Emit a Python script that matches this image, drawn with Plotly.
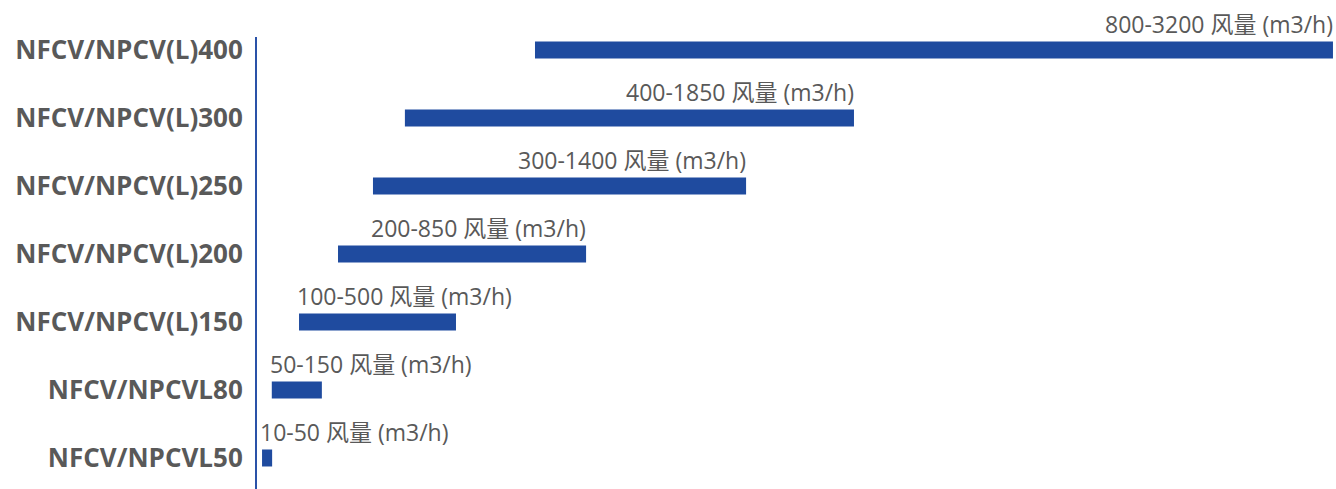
import plotly.graph_objects as go

categories = ["NFCV/NPCVL50", "NFCV/NPCVL80", "NFCV/NPCV(L)150", "NFCV/NPCV(L)200",
              "NFCV/NPCV(L)250", "NFCV/NPCV(L)300", "NFCV/NPCV(L)400"]
bar_start = [15, 44, 125, 241, 345, 440, 827]
bar_end = [45, 193, 592, 979, 1455, 1776, 3201]
range_labels = ["10-50 风量 (m3/h)", "50-150 风量 (m3/h)", "100-500 风量 (m3/h)",
                "200-850 风量 (m3/h)", "300-1400 风量 (m3/h)", "400-1850 风量 (m3/h)",
                "800-3200 风量 (m3/h)"]
# whether the label is aligned to the bar's right end (True) or left start (False)
align_right = [False, False, False, True, True, True, True]

BAR = "#1F4B9F"
TXT = "#595959"

fig = go.Figure()
fig.add_trace(go.Bar(
    y=categories,
    x=[e - s for s, e in zip(bar_start, bar_end)],
    base=bar_start,
    orientation="h",
    width=0.25,
    marker=dict(color=BAR, line=dict(width=0)),
    hoverinfo="skip",
))

for cat, s, e, lab, r in zip(categories, bar_start, bar_end, range_labels, align_right):
    fig.add_annotation(
        x=e if r else s, y=cat, text=lab, showarrow=False,
        xanchor="right" if r else "left", yanchor="middle",
        yshift=26, xshift=2 if r else -4,
        font=dict(family="Open Sans, Noto Sans CJK SC", size=23, color=TXT),
    )

fig.update_layout(
    width=1336, height=489,
    margin=dict(l=257, r=0, t=37, b=0),
    paper_bgcolor="white", plot_bgcolor="white",
    showlegend=False,
    xaxis=dict(range=[0, 3210], visible=False, showgrid=False, zeroline=False),
    yaxis=dict(
        type="category", categoryorder="array", categoryarray=categories,
        range=[-0.456, 6.191],
        showgrid=False, zeroline=False,
        showline=True, linecolor="#2A52A8", linewidth=2,
        ticks="", ticklabelstandoff=7,
        tickfont=dict(family="Open Sans", size=26, color=TXT, weight="bold"),
    ),
)

fig.write_html("out.html")
